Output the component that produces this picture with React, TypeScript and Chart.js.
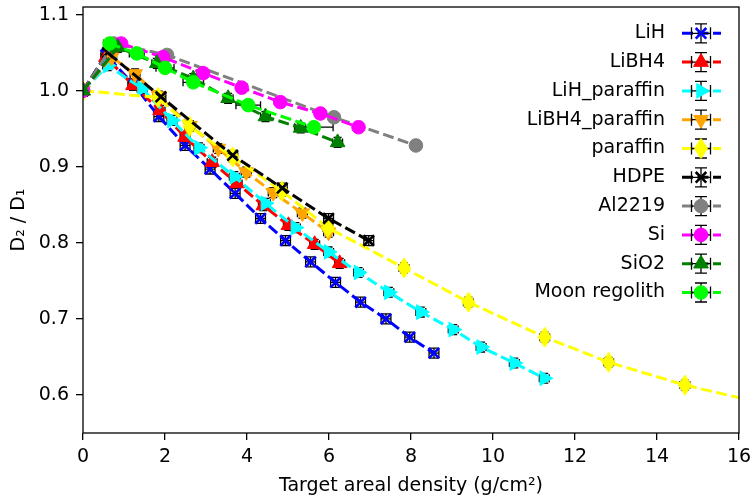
import React, { useEffect, useRef } from "react";
import { Chart, registerables } from "chart.js";
import { drawPoint } from "chart.js/helpers";

Chart.register(...registerables);

const FONT = "'DejaVu Sans', sans-serif";
const FS = 19;

// ---- data ----
const seriesNames = ["LiH", "LiBH4", "LiH_paraffin", "LiBH4_paraffin", "paraffin", "HDPE", "Al2219", "Si", "SiO2", "Moon regolith"];
const seriesColors = ["#0000ff", "#ff0000", "#00ffff", "#ffa500", "#ffff00", "#000000", "#808080", "#ff00ff", "#008000", "#00ff00"];

const lihX = [0, 0.56, 1.22, 1.85, 2.49, 3.10, 3.71, 4.33, 4.94, 5.55, 6.16, 6.77, 7.39, 7.97, 8.56];
const lihY = [1.0, 1.047, 1.009, 0.966, 0.928, 0.897, 0.865, 0.832, 0.803, 0.775, 0.748, 0.722, 0.700, 0.676, 0.655];

const libh4X = [0, 0.56, 1.22, 1.88, 2.49, 3.15, 3.76, 4.40, 5.01, 5.65, 6.26];
const libh4Y = [1.0, 1.044, 1.007, 0.974, 0.939, 0.906, 0.878, 0.849, 0.823, 0.798, 0.773];

const lihParX = [0, 0.60, 1.44, 2.17, 2.83, 3.69, 4.45, 5.18, 5.99, 6.72, 7.46, 8.24, 9.03, 9.71, 10.52, 11.25];
const lihParY = [1.0, 1.033, 1.003, 0.961, 0.925, 0.887, 0.852, 0.820, 0.788, 0.761, 0.735, 0.709, 0.686, 0.663, 0.642, 0.622];

const libh4ParX = [0, 0.70, 1.27, 1.85, 2.61, 3.30, 3.98, 4.64, 5.35, 5.99];
const libh4ParY = [1.0, 1.044, 1.022, 0.993, 0.954, 0.924, 0.893, 0.866, 0.839, 0.814];

const paraffinX = [0, 1.83, 2.60, 3.65, 4.85, 5.97, 7.83, 9.40, 11.26, 12.82, 14.68, 18.5];
const paraffinY = [1.0, 0.991, 0.953, 0.913, 0.868, 0.820, 0.767, 0.722, 0.676, 0.643, 0.613, 0.565];

const hdpeX = [0, 0.60, 1.90, 3.65, 4.86, 5.99, 6.97];
const hdpeY = [1.0, 1.050, 0.992, 0.915, 0.872, 0.832, 0.803];

const al2219X = [0, 0.75, 2.05, 6.12, 8.12];
const al2219Y = [1.0, 1.062, 1.047, 0.965, 0.928];

const siX = [0, 0.93, 1.95, 2.93, 3.87, 4.81, 5.79, 6.72];
const siY = [1.0, 1.062, 1.044, 1.023, 1.004, 0.985, 0.970, 0.952];

const sio2X = [0, 0.85, 1.80, 2.69, 3.54, 4.45, 5.31, 6.21];
const sio2Y = [1.0, 1.057, 1.036, 1.016, 0.990, 0.966, 0.951, 0.932];

const moonX = [0.65, 1.31, 2.0, 2.69, 4.03, 5.63];
const moonY = [1.062, 1.049, 1.030, 1.011, 0.981, 0.952];

// error bar half-widths
const seriesXErr = [0.12, 0.12, 0.12, 0.12, 0.12, 0.12, 0.12, 0.12, 0.12, 0.12];
const seriesYErr = [0.0065, 0.0065, 0.0065, 0.0065, 0.0065, 0.0065, 0.0065, 0.0065, 0.0065, 0.0065];
const moonXErr = [0.15, 0.18, 0.22, 0.25, 0.3, 0.47];

const xTicks = [0, 2, 4, 6, 8, 10, 12, 14, 16];
const yTicks = [0.6, 0.7, 0.8, 0.9, 1.0, 1.1];

const allX = [lihX, libh4X, lihParX, libh4ParX, paraffinX, hdpeX, al2219X, siX, sio2X, moonX];
const allY = [lihY, libh4Y, lihParY, libh4ParY, paraffinY, hdpeY, al2219Y, siY, sio2Y, moonY];

// marker styles
const markerKind = ["crossRot", "triangle", "triangle", "triangle", "diamond", "crossRot", "circle", "circle", "triangle", "circle"];
const markerRot = [0, 0, 90, 180, 0, 0, 0, 0, 0, 0];

function tallDiamond(color: string) {
  const c = document.createElement("canvas");
  c.width = 16;
  c.height = 22;
  const g = c.getContext("2d")!;
  g.fillStyle = color;
  g.strokeStyle = color;
  g.lineWidth = 1;
  g.beginPath();
  g.moveTo(8, 1);
  g.lineTo(14.5, 11);
  g.lineTo(8, 21);
  g.lineTo(1.5, 11);
  g.closePath();
  g.fill();
  g.stroke();
  return c;
}

function markerOpts(i: number) {
  const kind = markerKind[i];
  const color = seriesColors[i];
  if (kind === "diamond") return { pointStyle: tallDiamond(color) as any, radius: 8, borderWidth: 1 };
  if (kind === "crossRot") return { pointStyle: "crossRot", radius: 7.5, borderWidth: 2.6 };
  if (kind === "triangle") return { pointStyle: "triangle", radius: 8.5, borderWidth: 1 };
  return { pointStyle: "circle", radius: 6.8, borderWidth: 1 };
}

function xErrAt(si: number, i: number) {
  return si === 9 ? moonXErr[i] : seriesXErr[si];
}

const CAP = 4;

const errorBarPlugin = {
  id: "errbars",
  beforeDatasetsDraw(chart: any) {
    const { ctx, chartArea, scales } = chart;
    const xs = scales.x, ys = scales.y;
    ctx.save();
    ctx.beginPath();
    ctx.rect(chartArea.left, chartArea.top, chartArea.right - chartArea.left, chartArea.bottom - chartArea.top);
    ctx.clip();
    ctx.strokeStyle = "#000";
    ctx.lineWidth = 1.3;
    allX.forEach((xa, si) => {
      xa.forEach((xv, i) => {
        const yv = allY[si][i];
        const ex = xErrAt(si, i);
        const ey = seriesYErr[si];
        const px = xs.getPixelForValue(xv);
        const py = ys.getPixelForValue(yv);
        const x0 = xs.getPixelForValue(xv - ex);
        const x1 = xs.getPixelForValue(xv + ex);
        const y0 = ys.getPixelForValue(yv - ey);
        const y1 = ys.getPixelForValue(yv + ey);
        ctx.beginPath();
        ctx.moveTo(x0, py); ctx.lineTo(x1, py);
        ctx.moveTo(px, y0); ctx.lineTo(px, y1);
        ctx.moveTo(x0, py - CAP); ctx.lineTo(x0, py + CAP);
        ctx.moveTo(x1, py - CAP); ctx.lineTo(x1, py + CAP);
        ctx.moveTo(px - CAP, y0); ctx.lineTo(px + CAP, y0);
        ctx.moveTo(px - CAP, y1); ctx.lineTo(px + CAP, y1);
        ctx.stroke();
      });
    });
    ctx.restore();
  },
};

const framePlugin = {
  id: "frame",
  afterDatasetsDraw(chart: any) {
    const { ctx, chartArea } = chart;
    ctx.save();
    ctx.strokeStyle = "#000";
    ctx.lineWidth = 1.3;
    ctx.strokeRect(chartArea.left, chartArea.top, chartArea.right - chartArea.left, chartArea.bottom - chartArea.top);
    ctx.restore();
  },
};

const LEG_TEXT_RIGHT = 665;
const LEG_Y0 = 33.3;
const LEG_DY = 28.8;
const LEG_H0 = 682;
const LEG_H1 = 721;
const LEG_MX = 701;

const legendPlugin = {
  id: "customLegend",
  afterDraw(chart: any) {
    const { ctx } = chart;
    ctx.save();
    seriesNames.forEach((name, i) => {
      const yy = LEG_Y0 + LEG_DY * i;
      ctx.fillStyle = "#000";
      ctx.font = `${FS}px ${FONT}`;
      ctx.textAlign = "right";
      ctx.textBaseline = "middle";
      ctx.fillText(name, LEG_TEXT_RIGHT, yy);
      // line
      ctx.strokeStyle = seriesColors[i];
      ctx.lineWidth = 3;
      ctx.setLineDash([11, 4.5]);
      ctx.beginPath();
      ctx.moveTo(LEG_H0, yy);
      ctx.lineTo(LEG_H1, yy);
      ctx.stroke();
      ctx.setLineDash([]);
      // error box
      ctx.strokeStyle = "#000";
      ctx.lineWidth = 1.3;
      const hx = 9.5, hy = 9.5, c = 6;
      ctx.beginPath();
      ctx.moveTo(LEG_MX - hx, yy); ctx.lineTo(LEG_MX + hx, yy);
      ctx.moveTo(LEG_MX, yy - hy); ctx.lineTo(LEG_MX, yy + hy);
      ctx.moveTo(LEG_MX - hx, yy - c); ctx.lineTo(LEG_MX - hx, yy + c);
      ctx.moveTo(LEG_MX + hx, yy - c); ctx.lineTo(LEG_MX + hx, yy + c);
      ctx.moveTo(LEG_MX - c, yy - hy); ctx.lineTo(LEG_MX + c, yy - hy);
      ctx.moveTo(LEG_MX - c, yy + hy); ctx.lineTo(LEG_MX + c, yy + hy);
      ctx.stroke();
      // marker
      const m = markerOpts(i);
      ctx.fillStyle = seriesColors[i];
      ctx.strokeStyle = seriesColors[i];
      ctx.lineWidth = m.borderWidth;
      drawPoint(ctx, { pointStyle: m.pointStyle, rotation: markerRot[i], radius: m.radius, borderWidth: m.borderWidth } as any, LEG_MX, yy);
    });
    ctx.restore();
  },
};

export default function App() {
  const ref = useRef<HTMLCanvasElement>(null);
  useEffect(() => {
    if (!ref.current) return;
    const n = seriesNames.length;
    const datasets = seriesNames.map((name, i) => {
      const m = markerOpts(i);
      return {
        label: name,
        data: allX[i].map((xv, k) => ({ x: xv, y: allY[i][k] })),
        showLine: true,
        borderColor: seriesColors[i],
        backgroundColor: seriesColors[i],
        borderWidth: 3,
        borderDash: [11, 4.5],
        pointStyle: m.pointStyle,
        pointRadius: m.radius,
        pointRotation: markerRot[i],
        pointBackgroundColor: seriesColors[i],
        pointBorderColor: seriesColors[i],
        pointBorderWidth: m.borderWidth,
        tension: 0,
        order: n - i,
      };
    });
    const chart = new Chart(ref.current, {
      type: "scatter",
      data: { datasets: datasets as any },
      options: {
        animation: false,
        responsive: false,
        events: [],
        layout: { autoPadding: false, padding: { top: 7, right: 13, left: 0, bottom: 0 } },
        plugins: { legend: { display: false }, tooltip: { enabled: false } },
        scales: {
          x: {
            type: "linear",
            min: 0,
            max: 16,
            afterFit: (s: any) => { s.height = 67; s.paddingLeft = 0; s.paddingRight = 0; },
            afterBuildTicks: (s: any) => { s.ticks = xTicks.map((v) => ({ value: v })); },
            border: { display: false },
            grid: { display: true, drawOnChartArea: false, drawTicks: true, tickLength: 7, color: "#000", lineWidth: 1.3 },
            ticks: { color: "#000", font: { family: FONT, size: FS }, padding: 6, maxRotation: 0, callback: (v: any) => String(v) },
            title: { display: true, text: "Target areal density (g/cm²)", color: "#000", font: { family: FONT, size: FS }, padding: { top: 0, bottom: 3 } },
          },
          y: {
            type: "linear",
            min: 0.55,
            max: 1.11,
            afterFit: (s: any) => { s.width = 83; s.paddingTop = 0; s.paddingBottom = 0; },
            afterBuildTicks: (s: any) => { s.ticks = yTicks.map((v) => ({ value: v })); },
            border: { display: false },
            grid: { display: true, drawOnChartArea: false, drawTicks: true, tickLength: 7, color: "#000", lineWidth: 1.3 },
            ticks: { color: "#000", font: { family: FONT, size: FS }, padding: 7, callback: (v: any) => Number(v).toFixed(1) },
            title: { display: true, text: "D₂ / D₁", color: "#000", font: { family: FONT, size: FS }, padding: { top: 8, bottom: 0 } },
          },
        },
      },
      plugins: [errorBarPlugin, framePlugin, legendPlugin],
    });
    return () => chart.destroy();
  }, []);
  return (
    <div style={{ position: "absolute", left: 0, top: 0, width: 752, height: 500, background: "#fff" }}>
      <canvas ref={ref} width={752} height={500} style={{ width: 752, height: 500, display: "block" }} />
    </div>
  );
}
